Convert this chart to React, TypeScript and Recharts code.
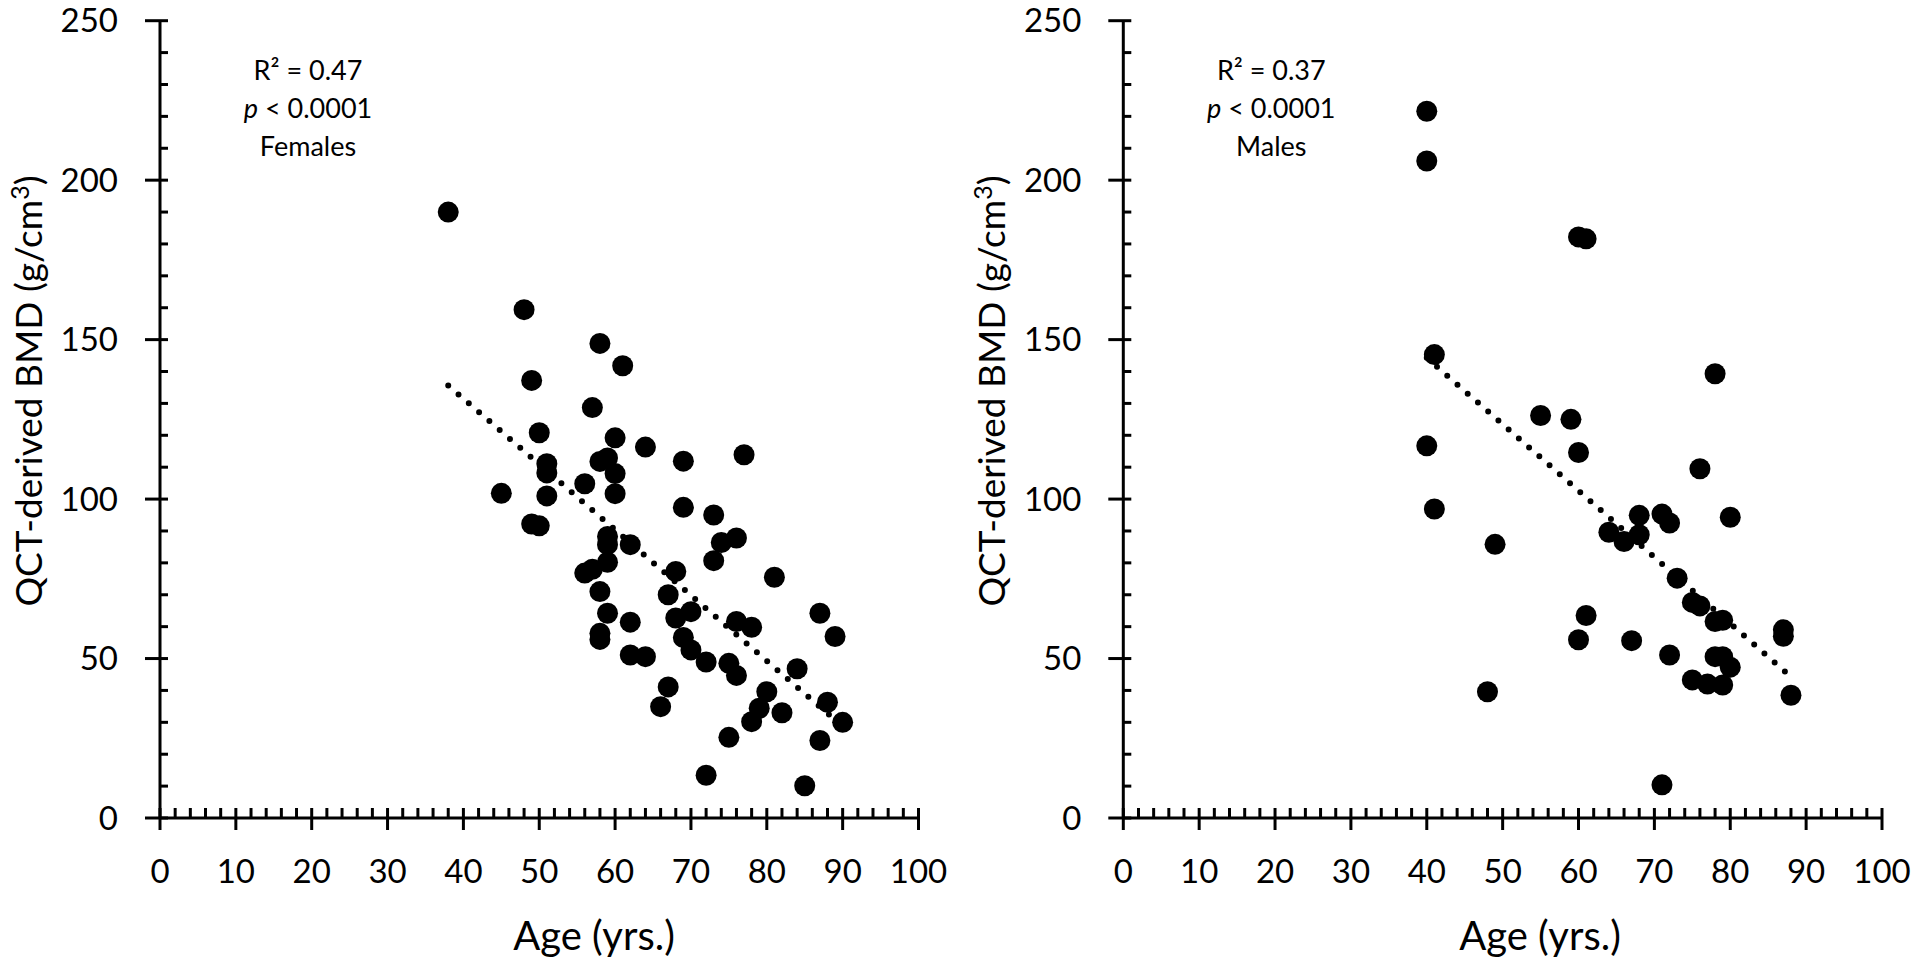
import { ScatterChart, Scatter, XAxis, YAxis } from 'recharts';

// [age, BMD]
const femalePoints: [number, number][] = [
  [38, 190], [48, 159.4], [58, 148.8], [61, 141.8], [49, 137.2], [57, 128.7],
  [50, 120.8], [60, 119.2], [64, 116.3], [69, 111.9], [77, 113.9], [51, 111.1],
  [51, 108.2], [58, 111.8], [59, 112.9], [60, 108], [56, 104.8], [45, 101.8],
  [51, 101], [60, 101.7], [49, 92.2], [50, 91.6], [69, 97.4], [73, 95],
  [76, 87.8], [74, 86.4], [73, 80.7], [59, 88.3], [59, 85.7], [62, 85.7],
  [59, 80.2], [56, 76.8], [57, 78], [58, 71], [68, 77.3], [67, 70],
  [81, 75.5], [59, 64.2], [62, 61.4], [68, 62.7], [70, 64.7], [76, 61.6],
  [78, 59.8], [87, 64.2], [89, 56.9], [58, 57.9], [58, 56], [69, 56.6],
  [70, 52.7], [72, 48.9], [62, 51.1], [64, 50.6], [75, 48.5], [76, 44.7],
  [84, 46.8], [67, 41.1], [66, 34.9], [80, 39.6], [79, 34.4], [78, 30.2],
  [82, 33], [88, 36.3], [90, 30], [75, 25.3], [87, 24.3], [72, 13.4], [85, 10.1],
];

const malePoints: [number, number][] = [
  [40, 221.6], [40, 206], [60, 182.2], [61, 181.6], [41, 145.3], [78, 139.3],
  [55, 126.2], [59, 125], [40, 116.7], [60, 114.6], [76, 109.5], [41, 96.9],
  [49, 85.8], [48, 39.6], [68, 94.9], [71, 95.3], [72, 92.5], [80, 94.3],
  [64, 89.6], [66, 86.7], [68, 88.8], [73, 75.2], [75, 67.6], [76, 66.5],
  [78, 61.6], [79, 62], [87, 59], [87, 57], [61, 63.5], [60, 55.9],
  [67, 55.6], [72, 51.1], [78, 50.6], [79, 50.6], [80, 47.3], [75, 43.3],
  [77, 42], [79, 41.7], [88, 38.5], [71, 10.4],
];

// linear trend end points as drawn
const femaleTrend: [number, number][] = [[38, 135.6], [90, 28.7]];
const maleTrend: [number, number][] = [[40, 144.3], [88, 44.3]];

const femaleStats = ['R² = 0.47', '< 0.0001', 'Females'];
const maleStats = ['R² = 0.37', '< 0.0001', 'Males'];

const X_TICKS = [0, 2, 4, 6, 8, 10, 12, 14, 16, 18, 20, 22, 24, 26, 28, 30, 32, 34, 36, 38, 40,
  42, 44, 46, 48, 50, 52, 54, 56, 58, 60, 62, 64, 66, 68, 70, 72, 74, 76, 78, 80,
  82, 84, 86, 88, 90, 92, 94, 96, 98, 100];
const Y_TICKS = [0, 10, 20, 30, 40, 50, 60, 70, 80, 90, 100, 110, 120, 130, 140, 150,
  160, 170, 180, 190, 200, 210, 220, 230, 240, 250];

const FONT = "Lato, 'Open Sans', sans-serif";

const toRows = (pts: [number, number][]) => pts.map(([age, bmd]) => ({ age, bmd }));

function XTick({ x, y, payload }: any) {
  const v = payload.value;
  const major = v % 10 === 0;
  return (
    <g>
      <line x1={x} x2={x} y1={y - 10} y2={major ? y + 12 : y} stroke="#000" strokeWidth={3} />
      {major && (
        <text x={x} y={y + 65} textAnchor="middle" fontSize={33} fontFamily={FONT} fill="#000">
          {v}
        </text>
      )}
    </g>
  );
}

function YTick({ x, y, payload }: any) {
  const v = payload.value;
  const major = v % 50 === 0;
  return (
    <g>
      <line x1={major ? x - 15 : x} x2={x + 8} y1={y} y2={y} stroke="#000" strokeWidth={3} />
      {major && (
        <text x={x - 42} y={y + 11.5} textAnchor="end" fontSize={33} fontFamily={FONT} fill="#000">
          {v}
        </text>
      )}
    </g>
  );
}

const Dot = (p: any) => <circle cx={p.cx} cy={p.cy} r={10.5} fill="#000" />;

interface PanelProps {
  left: number;
  axisWidth: number;
  rightMargin: number;
  points: [number, number][];
  trend: [number, number][];
  stats: string[];
  titleX: number;
}

function Panel({ left, axisWidth, rightMargin, points, trend, stats, titleX }: PanelProps) {
  const ax = axisWidth;
  return (
    <div style={{ position: 'absolute', left, top: 0, width: 960, height: 966 }}>
      <ScatterChart width={960} height={966} margin={{ top: 20.7, right: rightMargin, bottom: 0, left: 0 }}>
        <XAxis
          type="number"
          dataKey="age"
          domain={[0, 100]}
          ticks={X_TICKS}
          interval={0}
          tickSize={0}
          tickMargin={0}
          tickLine={false}
          tick={(p: any) => <XTick {...p} />}
          axisLine={{ stroke: '#000', strokeWidth: 3 }}
          height={148}
          allowDataOverflow
        />
        <YAxis
          type="number"
          dataKey="bmd"
          domain={[0, 250]}
          ticks={Y_TICKS}
          interval={0}
          tickSize={0}
          tickMargin={0}
          tickLine={false}
          tick={(p: any) => <YTick {...p} />}
          axisLine={{ stroke: '#000', strokeWidth: 3 }}
          width={axisWidth}
          allowDataOverflow
        />
        <Scatter data={toRows(points)} shape={Dot} isAnimationActive={false} />
        <Scatter
          data={toRows(trend)}
          shape={() => null}
          line={{ stroke: '#000', strokeWidth: 6, strokeDasharray: '0 13.6', strokeLinecap: 'round' }}
          isAnimationActive={false}
        />
      </ScatterChart>
      <svg width={960} height={966} style={{ position: 'absolute', left: 0, top: 0, pointerEvents: 'none' }}>
        <g fontFamily={FONT} fill="#000" fontSize={27} textAnchor="middle">
          <text x={ax + 148} y={80}>{stats[0]}</text>
          <text x={ax + 148} y={118}>
            <tspan fontStyle="italic">p</tspan> {stats[1]}
          </text>
          <text x={ax + 148} y={156}>{stats[2]}</text>
        </g>
        <text
          x={ax - 118}
          y={391}
          transform={`rotate(-90, ${ax - 118}, 391)`}
          textAnchor="middle"
          fontSize={37}
          fontFamily={FONT}
          fill="#000"
        >
          QCT-derived BMD (g/cm<tspan dy={-13} fontSize={25}>3</tspan><tspan dy={13}>)</tspan>
        </text>
        <text x={titleX} y={950} textAnchor="middle" fontSize={40} fontFamily={FONT} fill="#000">
          Age (yrs.)
        </text>
      </svg>
    </div>
  );
}

export default function App() {
  return (
    <div style={{ position: 'fixed', left: 0, top: 0, width: 1920, height: 966, background: '#fff' }}>
      <Panel left={0} axisWidth={160} rightMargin={41.5} points={femalePoints} trend={femaleTrend} stats={femaleStats} titleX={594} />
      <Panel left={960} axisWidth={163.3} rightMargin={38} points={malePoints} trend={maleTrend} stats={maleStats} titleX={580} />
    </div>
  );
}
